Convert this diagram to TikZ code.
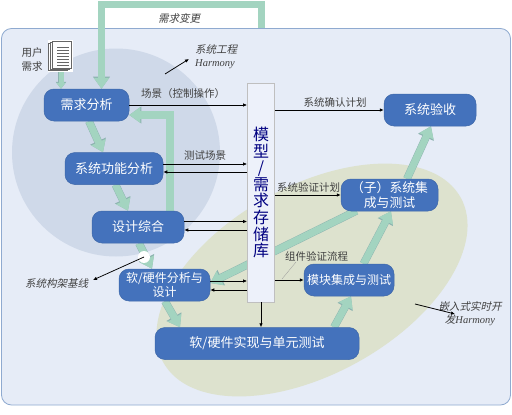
\documentclass[tikz,border=0pt]{standalone}
\usepackage{fontspec}
\newfontfamily\cjk{Noto Sans CJK SC}
\newfontfamily\cjkit[FakeSlant=0.22]{Noto Sans CJK SC}
\setmainfont{Liberation Serif}
\usetikzlibrary{arrows.meta}
\definecolor{panel}{HTML}{E6ECF7}
\definecolor{panelb}{HTML}{8FAAD0}
\definecolor{circ}{HTML}{CFD9E9}
\definecolor{olive}{HTML}{DDE2CE}
\definecolor{boxb}{HTML}{4472BC}
\definecolor{flow}{HTML}{A3D4C0}
\definecolor{flowb}{HTML}{8DB3B0}
\definecolor{repo}{HTML}{EDF1FA}
\pgfdeclarelayer{back}
\pgfdeclarelayer{flows}
\pgfsetlayers{back,flows,main}
\tikzset{
  stage/.style={draw=boxb!90!black,line width=.5pt,fill=boxb,rounded corners=10pt,text=white,align=center,inner sep=0pt,minimum height=32pt,font=\cjk\fontsize{13}{15}\selectfont},
  fat/.style={line width=7pt,draw=flow,-{Triangle[length=11pt,width=15pt]},
    preaction={draw=flowb,line width=7.8pt,-{Triangle[length=12.2pt,width=16.4pt]}}},
  thin fat/.style={line width=5pt,draw=flow,-{Triangle[length=6pt,width=9pt]},
    preaction={draw=flowb,line width=5.8pt,-{Triangle[length=7pt,width=10.2pt]}}},
  link/.style={-{Latex[length=4pt,width=3.5pt]},line width=.75pt,black},
  lab/.style={inner sep=0pt,text=black!75,align=center,font=\cjk\fontsize{10.5}{14}\selectfont},
  note/.style={inner sep=0pt,align=center,text=black!75,font=\cjkit\fontsize{10.5}{13}\selectfont},
  sheet/.style={draw=black!60,fill=white,line width=.4pt,minimum width=19pt,minimum height=27pt,inner sep=0pt},
}
\begin{document}
\begin{tikzpicture}[x=1pt,y=-1pt]
\useasboundingbox (0,0) rectangle (512,415);
\begin{pgfonlayer}{back}
\fill[white] (0,0) rectangle (512,415);
\draw[panelb,fill=panel,line width=.8pt,rounded corners=10pt] (1.5,28.5) rectangle (510.5,405);
\fill[circ] (116,152.5) circle (104);
\fill[olive,rotate around={29:(312,280)}] (312,280) ellipse (170 and 94);
\end{pgfonlayer}
% repository and stages
\node[draw=black!25,fill=repo,line width=.8pt,minimum width=27pt,minimum height=219pt,inner sep=0pt,text=blue!50!black,align=center,font=\cjk\fontsize{16}{16.6}\selectfont] (repo) at (261,192.5) {模\\型\\/\\需\\求\\存\\储\\库};
\node[stage,minimum width=85pt] (req) at (86.5,105) {需求分析};
\node[stage,minimum width=98pt] (func) at (114,168.5) {系统功能分析};
\node[stage,minimum width=92pt] (synth) at (138,227) {设计综合};
\node[stage,minimum width=91pt,font=\cjk\fontsize{12}{14.5}\selectfont] (hw) at (164.5,285) {软/硬件分析与\\设计};
\node[stage,minimum width=204pt] (impl) at (257,343.5) {软/硬件实现与单元测试};
\node[stage,minimum width=90pt,font=\cjk\fontsize{12}{14}\selectfont] (mod) at (349,280) {模块集成与测试};
\node[stage,minimum width=97pt,font=\cjk\fontsize{12.8}{15}\selectfont] (sub) at (389.5,195) {（子）系统集\\成与测试};
\node[stage,minimum width=92pt] (acc) at (430,110) {系统验收};
% document icon
\fill[white] (48,40) rectangle (72.5,72);
\node[sheet] (doc2) at (58,57) {};
\node[sheet] (doc1) at (60,56) {};
\node[sheet] (doc) at (62,55) {};
\foreach \yy in {-8,-5,-2,1,4,7,10} \draw[black!60,line width=.4pt] ([xshift=-5pt,yshift=-\yy pt]doc.center) -- ([xshift=7pt,yshift=-\yy pt]doc.center);
% flow arrows
\begin{pgfonlayer}{flows}
\coordinate (chgstart) at (261.5,28);
\draw[fat,line width=7.5pt] (chgstart) -- (261.5,4.5) -- (101.5,4.5) -- ([xshift=15pt]req.north);
\draw[thin fat] (doc2.south -| 61,0) -- ([xshift=-25.5pt]req.north);
\draw[fat,line width=8pt] ([xshift=32pt]synth.north) |- ([yshift=-10pt]req.east);
\draw[fat] ([xshift=2.5pt]req.south) -- ([xshift=-11pt]func.north);
\draw[fat] ([xshift=1.5pt]func.south) -- ([xshift=-10pt]synth.north);
\draw[fat] ([xshift=1pt]synth.south) -- ([xshift=-12.5pt]hw.north);
\draw[fat] ([xshift=.5pt]hw.south) -- ([xshift=-77pt]impl.north);
\draw[fat] ([xshift=77pt]impl.north) -- ([xshift=2pt]mod.south);
\draw[fat] ([xshift=14.5pt]mod.north) -- ([xshift=1.5pt]sub.south);
\draw[fat] ([xshift=17.5pt]sub.north) -- ([xshift=1pt]acc.south);
\draw[fat] ([xshift=-33pt,yshift=.5pt]sub.south) -- ([yshift=2pt]hw.east);
\end{pgfonlayer}
% links
\draw[link] (req.east) -- (req.east -| repo.west);
\draw[link] (acc.west -| repo.east) -- (acc.west);
\draw[link] ([yshift=4.5pt]func.east) -- ([yshift=4.5pt]func.east -| repo.west);
\draw[link] ([yshift=-3.5pt]func.east -| repo.west) -- ([yshift=-3.5pt]func.east);
\draw[link] ([yshift=5.5pt]synth.east) -- ([yshift=5.5pt]synth.east -| repo.west);
\draw[link] ([yshift=-3pt]synth.east -| repo.west) -- ([yshift=-3pt]synth.east);
\draw[link] ([yshift=4pt]hw.east) -- ([yshift=4pt]hw.east -| repo.west);
\draw[link] ([yshift=-5pt]hw.east -| repo.west) -- ([yshift=-5pt]hw.east);
\draw[link] (sub.west -| repo.east) -- (sub.west);
\draw[link] (mod.west -| repo.east) -- (mod.west);
\draw[link] (repo.south) -- (repo.south |- impl.north);
% labels
\node[note] (chg) at (179,18) {需求变更};
\node[lab] (user) at (32,59) {用户\\需求};
\node[note,align=left,anchor=west] (se) at (195,57) {系统工程\\{\rmfamily\itshape\fontsize{10.5}{13}\selectfont Harmony}};
\node[lab] (l1) at (183,94) {场景（控制操作）};
\node[lab] (l2) at (205,156) {测试场景};
\node[lab] (l3) at (335,102) {系统确认计划};
\node[lab] (l4) at (308.5,187) {系统验证计划};
\node[lab] (l5) at (316.5,256) {组件验证流程};
\node[note] (base) at (56.5,283) {系统构架基线};
\node[note] (emb) at (470,313.5) {嵌入式实时开\\发{\rmfamily\itshape\fontsize{10.5}{13}\selectfont Harmony}};
% pointers
\coordinate (p1a) at (165,74); \coordinate (p1b) at (189,59);
\draw[link] (p1a) -- (p1b);
\coordinate (p2a) at (144,257); \coordinate (p2b) at (93,280);
\fill[white] (p2a) circle (6);
\draw[link] (p2a) -- (p2b);
\coordinate (p3a) at (415,304); \coordinate (p3b) at (455,314);
\draw[link] (p3a) -- (p3b);
\coordinate (p4a) at (296,262); \coordinate (p4b) at (282,279);
\draw[black!40,line width=.3pt] (p4a) -- (p4b);
\end{tikzpicture}
\end{document}
